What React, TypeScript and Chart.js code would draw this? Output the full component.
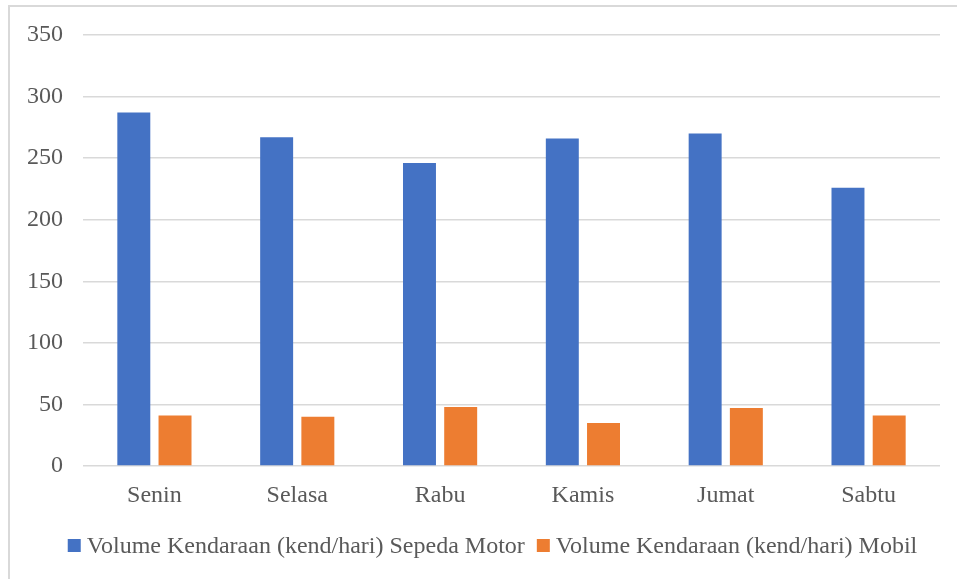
import React, { useEffect, useRef } from 'react';
import { Chart, registerables } from 'chart.js';

Chart.register(...registerables);

const days = ['Senin', 'Selasa', 'Rabu', 'Kamis', 'Jumat', 'Sabtu'];
const motorLabel = 'Volume Kendaraan (kend/hari) Sepeda Motor';
const mobilLabel = 'Volume Kendaraan (kend/hari) Mobil';
const motor = [287, 267, 246, 266, 270, 226];
const mobil = [41, 40, 48, 35, 47, 41];
const yMin = 0;
const yMax = 350;
const yStep = 50;

const FONT = "'Liberation Serif', 'Times New Roman', serif";
const TEXT = '#595959';
const GRID = '#d9d9d9';

const legendPlugin = {
  id: 'customLegend',
  afterDraw(chart: any) {
    const ctx = chart.ctx;
    ctx.save();
    ctx.font = `24px ${FONT}`;
    const items = chart.data.datasets.map((ds: any) => ({
      text: ds.label as string,
      color: ds.backgroundColor as string,
    }));
    const widths = items.map((it: any) => 13 + 6 + ctx.measureText(it.text).width);
    const gap = 12;
    const total = widths.reduce((a: number, b: number) => a + b, 0) + gap * (items.length - 1);
    let x = chart.width / 2 - 0.5 - total / 2;
    const baseY = chart.chartArea.bottom + 87;
    items.forEach((it: any, i: number) => {
      ctx.fillStyle = it.color;
      ctx.fillRect(x, baseY - 14, 13, 13);
      ctx.fillStyle = TEXT;
      ctx.textBaseline = 'alphabetic';
      ctx.textAlign = 'left';
      ctx.fillText(it.text, x + 19, baseY);
      x += widths[i] + gap;
    });
    ctx.restore();
  },
};

export default function App() {
  const ref = useRef<HTMLCanvasElement | null>(null);

  useEffect(() => {
    if (!ref.current) return;
    const chart = new Chart(ref.current, {
      type: 'bar',
      data: {
        labels: days,
        datasets: [
          {
            label: motorLabel,
            data: motor,
            backgroundColor: '#4472C4',
            barPercentage: 0.8,
            categoryPercentage: 0.577,
          },
          {
            label: mobilLabel,
            data: mobil,
            backgroundColor: '#ED7D31',
            barPercentage: 0.8,
            categoryPercentage: 0.577,
          },
        ],
      },
      options: {
        animation: false,
        responsive: true,
        maintainAspectRatio: false,
        layout: { padding: { top: 28, right: 36, bottom: 61, left: 0 } },
        scales: {
          x: {
            grid: { display: false },
            border: { display: false },
            ticks: { color: TEXT, font: { family: FONT, size: 24 }, padding: 7 },
            afterFit: (s: any) => {
              s.height = 80;
            },
          },
          y: {
            min: yMin,
            max: yMax,
            ticks: { stepSize: yStep, color: TEXT, font: { family: FONT, size: 24 }, padding: 20 },
            grid: { color: GRID, lineWidth: 1.5, drawTicks: false },
            border: { display: false },
            afterFit: (s: any) => {
              s.width = 73;
              s.paddingTop = 10;
              s.paddingBottom = 10;
            },
          },
        },
        plugins: {
          legend: { display: false },
          tooltip: { enabled: false },
        },
      },
      plugins: [legendPlugin],
    });
    return () => chart.destroy();
  }, []);

  return (
    <div style={{ position: 'fixed', inset: 0, overflow: 'hidden', background: '#fff' }}>
      <div
        style={{
          position: 'absolute',
          left: 8,
          top: 5,
          width: 966,
          height: 600,
          border: `2px solid ${GRID}`,
          background: '#fff',
        }}
      >
        <canvas ref={ref} />
      </div>
    </div>
  );
}
